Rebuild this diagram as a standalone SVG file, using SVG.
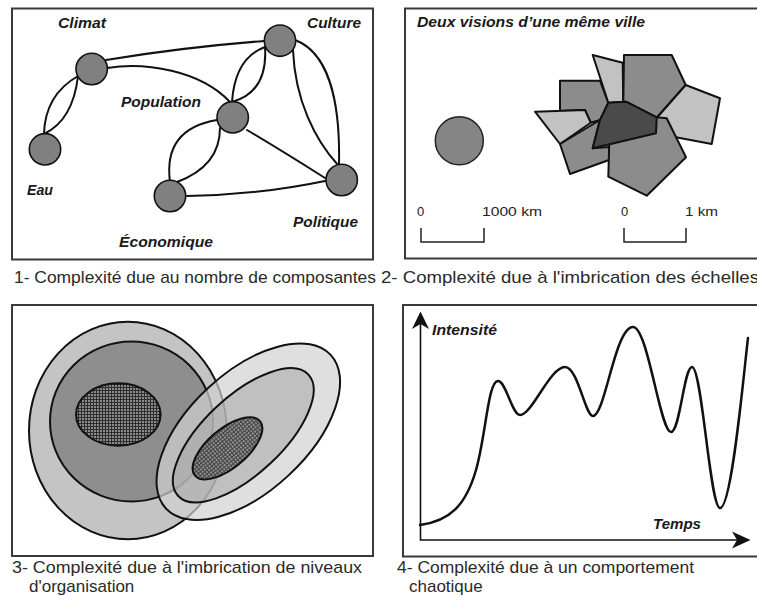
<svg xmlns="http://www.w3.org/2000/svg" width="757" height="603" viewBox="0 0 757 603">
<style>
.frame{fill:none;stroke:#3a3a3a;stroke-width:2}
.lbl{font-family:"Liberation Sans",Arial,sans-serif;font-weight:bold;font-style:italic;font-size:14px;fill:#1a1a1a}
.cap{font-family:"Liberation Sans",Arial,sans-serif;font-size:17px;fill:#2a2a2a}
.scl{font-family:"Liberation Sans",Arial,sans-serif;font-size:13px;fill:#222}
.node{fill:#808080;stroke:#111;stroke-width:1.6}
.edge{fill:none;stroke:#111;stroke-width:2;stroke-linecap:round}
.poly{stroke:#111;stroke-width:2;stroke-linejoin:round}
.dk{fill:#4a4a4a}.md{fill:#8c8c8c}.lt{fill:#c2c2c2}
.ell{stroke:#111;stroke-width:2}
.bar{fill:none;stroke:#222;stroke-width:1.5}
</style>
<defs>
<pattern id="hatch" width="3" height="3" patternUnits="userSpaceOnUse">
<rect width="3" height="3" fill="#8a8a8a"/>
<path d="M0,0.5H3M0.5,0V3" stroke="#2e2e2e" stroke-width="1"/>
</pattern>
</defs>
<rect width="757" height="603" fill="#fff"/>

<!-- Panel 1 -->
<g id="panel1">
<rect class="frame" x="12" y="8.5" width="361" height="251"/>
<g id="connectors">
<path class="edge" d="M106,60 Q185,47 264,41"/>
<path class="edge" d="M107,68 C145,62 200,70 230,102"/>
<path class="edge" d="M78,76 Q45,95 44,134"/>
<path class="edge" d="M78,76 Q73,120 44,134"/>
<path class="edge" d="M265,47 Q235,58 232,102"/>
<path class="edge" d="M265,47 Q268,92 232,102"/>
<path class="edge" d="M295,40 C335,55 340,120 339,165"/>
<path class="edge" d="M293,50 C295,100 315,140 338,165"/>
<path class="edge" d="M247,130 Q284,152 325,178"/>
<path class="edge" d="M217,120 Q163,129 170,182"/>
<path class="edge" d="M220,128 Q220,166 177,182"/>
<path class="edge" d="M187,196 Q258,195 325,181"/>
</g>
<g id="climat"><circle class="node" cx="91.7" cy="69" r="15.7"/><text class="lbl" x="58" y="28" textLength="48" lengthAdjust="spacingAndGlyphs">Climat</text></g>
<g id="culture"><circle class="node" cx="280" cy="40.7" r="15.7"/><text class="lbl" x="307" y="28" textLength="54" lengthAdjust="spacingAndGlyphs">Culture</text></g>
<g id="population"><circle class="node" cx="232.7" cy="117.3" r="15.7"/><text class="lbl" x="121" y="107" textLength="80" lengthAdjust="spacingAndGlyphs">Population</text></g>
<g id="eau"><circle class="node" cx="45" cy="149.3" r="15.7"/><text class="lbl" x="27" y="195" textLength="26" lengthAdjust="spacingAndGlyphs">Eau</text></g>
<g id="economique"><circle class="node" cx="170" cy="196" r="15.7"/><text class="lbl" x="119" y="247" textLength="94" lengthAdjust="spacingAndGlyphs">Économique</text></g>
<g id="politique"><circle class="node" cx="341.7" cy="180" r="15.7"/><text class="lbl" x="293" y="227" textLength="65" lengthAdjust="spacingAndGlyphs">Politique</text></g>
<text class="cap" x="14" y="283" textLength="362" lengthAdjust="spacingAndGlyphs">1- Complexité due au nombre de composantes</text>
</g>

<!-- Panel 2 -->
<g id="panel2">
<rect class="frame" x="405" y="8.5" width="360" height="250"/>
<text class="lbl" x="417" y="27" textLength="228" lengthAdjust="spacingAndGlyphs">Deux visions d’une même ville</text>
<circle cx="459.3" cy="140.7" r="24" fill="#858585" stroke="#222" stroke-width="1.5"/>
<g id="city">
<polygon class="poly md" points="560,80.7 600,80.7 608.3,102.7 600,120 590.7,122.7 585,110 560,111"/>
<polygon class="poly lt" points="535,111.7 585,110 590.7,122.7 560,144"/>
<polygon class="poly md" points="560,144 600,120 592.7,148.3 609,147 609,160 570,174"/>
<polygon class="poly lt" points="592.7,55 622.7,62.7 623.3,101.7 608.3,102.7"/>
<polygon class="poly md" points="624,55 671.7,55 685.7,85 656.7,117.3 626,101.7 623.3,101.7"/>
<polygon class="poly lt" points="685.7,85 720,98.3 711.7,144 673.3,136.7 657.3,117.3"/>
<polygon class="poly md" points="656.7,117.3 666.7,118.3 686,157.3 646.7,195.7 608.3,176.7 609.3,141.7"/>
<polygon class="poly dk" points="608.3,102.7 626,101.7 656.7,117.3 656,133.3 592.7,148.3 600,120"/>
</g>
<text class="scl" x="417" y="216">0</text>
<text class="scl" x="482" y="216" textLength="60" lengthAdjust="spacingAndGlyphs">1000 km</text>
<path class="bar" d="M421,228V242H484V228"/>
<text class="scl" x="621" y="216">0</text>
<text class="scl" x="685" y="216" textLength="33" lengthAdjust="spacingAndGlyphs">1 km</text>
<path class="bar" d="M624,228V242H686V228"/>
<text class="cap" x="381" y="283" textLength="378" lengthAdjust="spacingAndGlyphs">2- Complexité due à l'imbrication des échelles</text>
</g>

<!-- Panel 3 -->
<g id="panel3">
<rect class="frame" x="12" y="305" width="361" height="251"/>
<ellipse class="ell" cx="127.8" cy="430.5" rx="98.8" ry="108.8" fill="#c4c4c4"/>
<ellipse class="ell" cx="131.5" cy="421.5" rx="81.5" ry="80" fill="#8e8e8e"/>
<ellipse class="ell" cx="118.3" cy="414.5" rx="42.3" ry="31.2" fill="url(#hatch)"/>
<g transform="translate(248.3,431.7) rotate(-43)">
<ellipse class="ell" cx="0" cy="0" rx="112.6" ry="59.4" fill="#d2d2d2" fill-opacity="0.7"/>
</g>
<g transform="translate(243.3,435.3) rotate(-43)">
<ellipse class="ell" cx="0" cy="0" rx="89" ry="39" fill="#a6a6a6" fill-opacity="0.55"/>
</g>
<g transform="translate(227.5,448.3) rotate(-40)">
<ellipse class="ell" cx="0" cy="0" rx="42.4" ry="19.5" fill="url(#hatch)" fill-opacity="0.85"/>
</g>
<text class="cap" x="12" y="573" textLength="350" lengthAdjust="spacingAndGlyphs">3- Complexité due à l'imbrication de niveaux</text>
<text class="cap" x="29" y="592">d'organisation</text>
</g>

<!-- Panel 4 -->
<g id="panel4">
<rect class="frame" x="403" y="305" width="362" height="251.5"/>
<path d="M420.5,324V540H740" fill="none" stroke="#111" stroke-width="1.6"/>
<path d="M420.5,311.5L429,329L420.5,324L412,329Z" fill="#111"/>
<path d="M750.5,540L732,531.5L737,540L732,548.5Z" fill="#111"/>
<path fill="none" stroke="#111" stroke-width="2.5" stroke-linecap="round" d="M420,525 C450,521 466,505 476,470 C486,435 488,381 498,381 C506,381 512,415 520,415 C532,415 550,367 565,367 C578,367 585,416 593,416 C605,416 615,327 633,327 C648,327 660,432 671,432 C680,432 684,367 692,367 C702,367 710,508 720,508 C732,508 744,370 748,338"/>
<text class="lbl" x="432" y="335" textLength="65" lengthAdjust="spacingAndGlyphs">Intensité</text>
<text class="lbl" x="653" y="529" textLength="48" lengthAdjust="spacingAndGlyphs">Temps</text>
<text class="cap" x="397" y="573" textLength="297" lengthAdjust="spacingAndGlyphs">4- Complexité due à un comportement</text>
<text class="cap" x="409" y="592">chaotique</text>
</g>
</svg>
